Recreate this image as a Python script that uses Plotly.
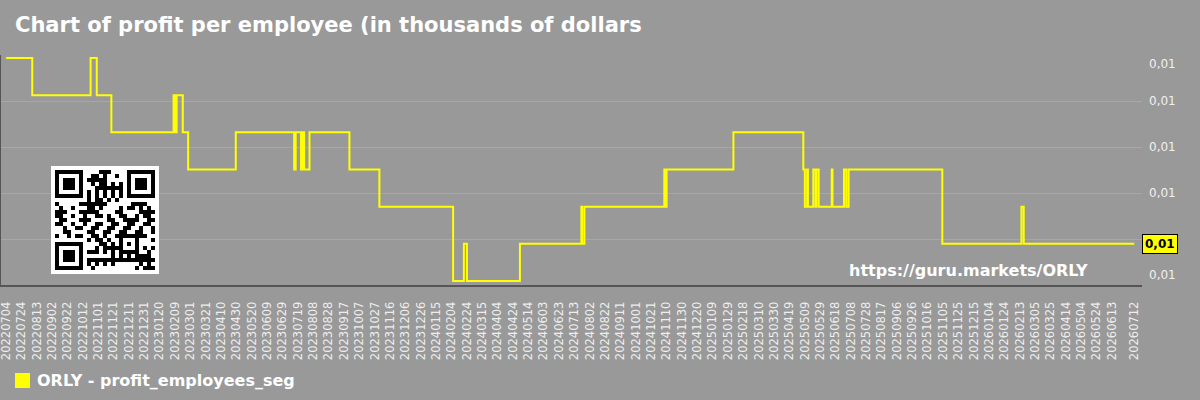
import base64, struct, zlib
import pandas as pd
import plotly.graph_objects as go

# ---------------- data ----------------
change_dates = [
    "2022-07-04", "2022-08-07", "2022-10-22", "2022-10-30", "2022-11-18",
    "2023-02-07", "2023-02-09", "2023-02-11", "2023-02-19", "2023-02-26",
    "2023-04-29", "2023-07-14", "2023-07-16", "2023-07-23", "2023-07-25",
    "2023-07-27", "2023-08-03", "2023-09-24", "2023-11-02", "2024-02-06",
    "2024-02-20", "2024-02-24", "2024-05-03", "2024-07-22", "2024-07-23",
    "2024-07-26", "2024-11-07", "2024-11-09", "2024-11-10", "2025-02-05",
    "2025-05-07", "2025-05-09", "2025-05-12", "2025-05-13", "2025-05-20",
    "2025-05-23", "2025-05-24", "2025-05-27", "2025-06-13", "2025-06-14",
    "2025-06-29", "2025-07-02", "2025-07-05", "2025-11-04", "2026-02-15",
    "2026-02-18", "2026-07-12",
]
profit_values = [
    0.0128, 0.0124, 0.0128, 0.0124, 0.0120,
    0.0124, 0.0120, 0.0124, 0.0120, 0.0116,
    0.0120, 0.0116, 0.0120, 0.0116, 0.0120,
    0.0116, 0.0120, 0.0116, 0.0112, 0.0104,
    0.0108, 0.0104, 0.0108, 0.0112, 0.0108,
    0.0112, 0.0116, 0.0112, 0.0116, 0.0120,
    0.0116, 0.0112, 0.0116, 0.0112, 0.0116,
    0.0112, 0.0116, 0.0112, 0.0116, 0.0112,
    0.0116, 0.0112, 0.0116, 0.0108, 0.0112,
    0.0108, 0.0108,
]
series_name = "ORLY - profit_employees_seg"
title_text = "Chart of profit per employee (in thousands of dollars"
watermark = "https://guru.markets/ORLY"
tick_start = "2022-07-04"
tick_stop = "2026-06-13"
last_tick = "2026-07-12"
y_label = "0,01"

# ---------------- styles ----------------
BG = "#999999"
GRID = "#a7a7a7"
AXIS = "#555555"
YELLOW = "#ffff00"
FONT = "DejaVu Sans"
W, H = 1200, 400
ML, MR, MT, MB = 0, 58, 55, 115
PW, PH = W - ML - MR, H - MT - MB

y_min, y_max = 0.010357, 0.012832
n_grid = 6
grid_vals = [y_min + (y_max - y_min) * i / (n_grid - 1) for i in range(n_grid)]

tick_dates = list(pd.date_range(tick_start, tick_stop, freq="20D")) + [pd.Timestamp(last_tick)]
tick_text = [d.strftime("%Y%m%d") for d in tick_dates]

fig = go.Figure()
fig.add_trace(go.Scatter(
    x=pd.to_datetime(change_dates), y=profit_values, mode="lines",
    line=dict(color=YELLOW, width=2, shape="hv"), name=series_name,
    showlegend=False, hoverinfo="skip",
))

# ---------------- QR-like decoration as PNG ----------------
N = 25
def qr_dark(r, c):
    for (r0, c0) in [(0, 0), (0, 18), (18, 0)]:
        if r0 <= r < r0 + 7 and c0 <= c < c0 + 7:
            d = max(abs(r - r0 - 3), abs(c - c0 - 3))
            return d != 2
    if (r <= 7 and c <= 7) or (r <= 7 and c >= 17) or (r >= 17 and c <= 7):
        return False
    if 16 <= r <= 20 and 16 <= c <= 20:
        return max(abs(r - 18), abs(c - 18)) != 1
    if r == 6:
        return c % 2 == 0
    if c == 6:
        return r % 2 == 0
    if (r, c) == (17, 8):
        return True
    return ((r * 7 + c * 13 + r * c * 5 + (r // 3) * (c // 2)) % 11) < 5

MOD = 4
border = 1
side = (N + 2 * border) * MOD
rows = []
for py in range(side):
    row = bytearray()
    r = py // MOD - border
    for px in range(side):
        c = px // MOD - border
        dark = 0 <= r < N and 0 <= c < N and qr_dark(r, c)
        row.append(0 if dark else 255)
    rows.append(bytes(row))

def chunk(t, d):
    return struct.pack(">I", len(d)) + t + d + struct.pack(">I", zlib.crc32(t + d) & 0xffffffff)

png = (b"\x89PNG\r\n\x1a\n"
       + chunk(b"IHDR", struct.pack(">IIBBBBB", side, side, 8, 0, 0, 0, 0))
       + chunk(b"IDAT", zlib.compress(b"".join(b"\x00" + rw for rw in rows)))
       + chunk(b"IEND", b""))
src = "data:image/png;base64," + base64.b64encode(png).decode()

qr_x, qr_y = 51, 166
fig.add_layout_image(dict(
    source=src, xref="paper", yref="paper",
    x=(qr_x - ML) / PW, y=(MT + PH - qr_y) / PH,
    sizex=side / PW, sizey=side / PH, xanchor="left", yanchor="top",
    sizing="stretch", layer="above",
))

def px_y(p):
    return (MT + PH - p) / PH

def px_x(p):
    return (p - ML) / PW

annotations = []
# y tick labels (ends pulled inside like the reference; the one behind the
# last-value box is hidden as in the reference)
for i, v in enumerate(grid_vals):
    if i == 1:
        continue
    shift = 0
    if i == 0:
        shift = 10
    elif i == n_grid - 1:
        shift = -9
    annotations.append(dict(
        x=1, xref="paper", y=v, yref="y", text=y_label, showarrow=False,
        xanchor="left", yanchor="middle", xshift=5, yshift=shift,
        font=dict(family=FONT, size=12, color="#f0f0f0"),
    ))
# last value box
annotations.append(dict(
    x=1, xref="paper", y=profit_values[-1], yref="y", text=y_label,
    showarrow=False, xanchor="left", yanchor="middle", xshift=0,
    bgcolor=YELLOW, bordercolor="#000000", borderwidth=1, borderpad=2,
    font=dict(family=FONT, size=12, color="#000000", weight="bold"),
))
# watermark
annotations.append(dict(
    x=px_x(1090), xref="paper", y=px_y(270), yref="paper", text=watermark,
    showarrow=False, xanchor="right", yanchor="middle",
    font=dict(family=FONT, size=16, color="#ffffff", weight="bold"),
))
# legend text
annotations.append(dict(
    x=px_x(35), xref="paper", y=px_y(380.5), yref="paper", text=series_name,
    showarrow=False, xanchor="left", yanchor="middle",
    font=dict(family=FONT, size=16, color="#ffffff", weight="bold"),
))

shapes = [
    dict(type="rect", xref="paper", yref="paper",
         x0=px_x(15), x1=px_x(30), y0=px_y(388), y1=px_y(373),
         fillcolor=YELLOW, line=dict(width=0)),
    dict(type="line", xref="paper", yref="paper", x0=0, x1=0, y0=0, y1=1,
         line=dict(color=AXIS, width=2)),
]

fig.update_layout(
    width=W, height=H,
    margin=dict(l=ML, r=MR, t=MT, b=MB),
    paper_bgcolor=BG, plot_bgcolor=BG,
    title=dict(text=title_text, x=15 / W, xanchor="left", xref="container",
               y=1 - 25 / H, yanchor="middle", yref="container",
               font=dict(family=FONT, size=21, color="#ffffff", weight="bold")),
    showlegend=False,
    annotations=annotations, shapes=shapes,
    xaxis=dict(type="date", range=["2022-06-26", "2026-07-22"],
               tickmode="array", tickvals=tick_dates, ticktext=tick_text,
               tickangle=-90, tickfont=dict(family=FONT, size=11.5, color="#eeeeee"),
               ticklabeloverflow="allow",
               showgrid=False, zeroline=False, showline=True, linecolor=AXIS,
               linewidth=2, ticks="outside", ticklen=10, tickcolor=BG),
    yaxis=dict(range=[y_min, y_max], side="right", tickmode="array",
               tickvals=grid_vals, showticklabels=False, showgrid=True,
               gridcolor=GRID, gridwidth=1, zeroline=False),
)

fig.write_html("out.html")
